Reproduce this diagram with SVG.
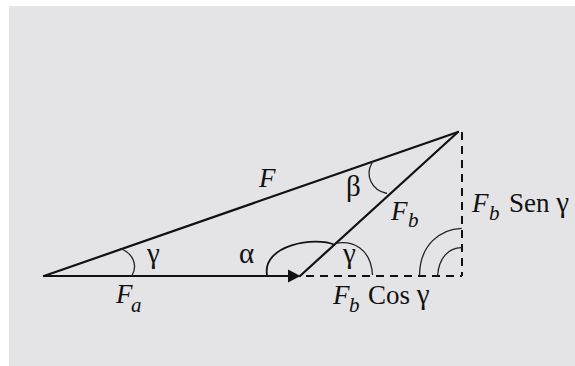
<svg xmlns="http://www.w3.org/2000/svg" width="575" height="366" viewBox="0 0 575 366">
<style>
.ln{stroke:#111;stroke-width:2.2;fill:none;stroke-linecap:round}
.ds{stroke:#111;stroke-width:2;fill:none;stroke-dasharray:8 6}
.arc{stroke:#222;stroke-width:1.3;fill:none}
.arcb{stroke:#111;stroke-width:1.8;fill:none}
text{font-family:"Liberation Serif","Times New Roman",serif;font-size:27px;fill:#111}
.it{font-style:italic}
.sub{font-style:italic;font-size:21px}
.gk{font-size:29px}
</style>
<rect x="9" y="6" width="566" height="360" fill="#e4e4e6"/>
<g id="connectors">
<line class="ln" x1="44" y1="276" x2="458" y2="132"/>
<line class="ln" x1="44" y1="276" x2="290" y2="276"/>
<polygon points="288,269.5 300.5,276 288,282.5" fill="#111"/>
<line class="ln" x1="300" y1="276" x2="458" y2="132"/>
<line class="ds" x1="306" y1="276" x2="462" y2="276"/>
<line class="ds" x1="462" y1="132" x2="462" y2="276"/>
</g>
<g id="angles">
<path class="arc" d="M120,248.5 C133,253 138,265 132,275.5"/>
<path class="arc" d="M372,163 C365,175 371,190 387,193.5"/>
<path class="arcb" d="M267,275 C262,245 315,236 335,245"/>
<path class="arc" d="M335,243.5 C352,240 371,248 372.5,275"/>
<path class="arc" d="M419.5,275 C420,245 440,229 461.7,228.3"/>
<path class="arc" d="M437.7,275 C439,258 448,248 461.7,247.7"/>
</g>
<g id="labels">
<text class="it" x="259" y="187">F</text>
<text class="gk" x="346" y="196">β</text>
<text class="it" x="391" y="220">F</text>
<text class="sub" x="408" y="227">b</text>
<text class="it" x="472" y="212">F</text>
<text class="sub" x="489" y="220">b</text>
<text x="509" y="212">Sen <tspan class="gk">γ</tspan></text>
<text class="gk" x="147" y="263">γ</text>
<text class="gk" x="239" y="263">α</text>
<text class="gk" x="343" y="263">γ</text>
<text class="it" x="116" y="303">F</text>
<text class="sub" x="131" y="312">a</text>
<text class="it" x="333" y="304">F</text>
<text class="sub" x="349" y="312">b</text>
<text x="368" y="304">Cos <tspan class="gk">γ</tspan></text>
</g>
</svg>
